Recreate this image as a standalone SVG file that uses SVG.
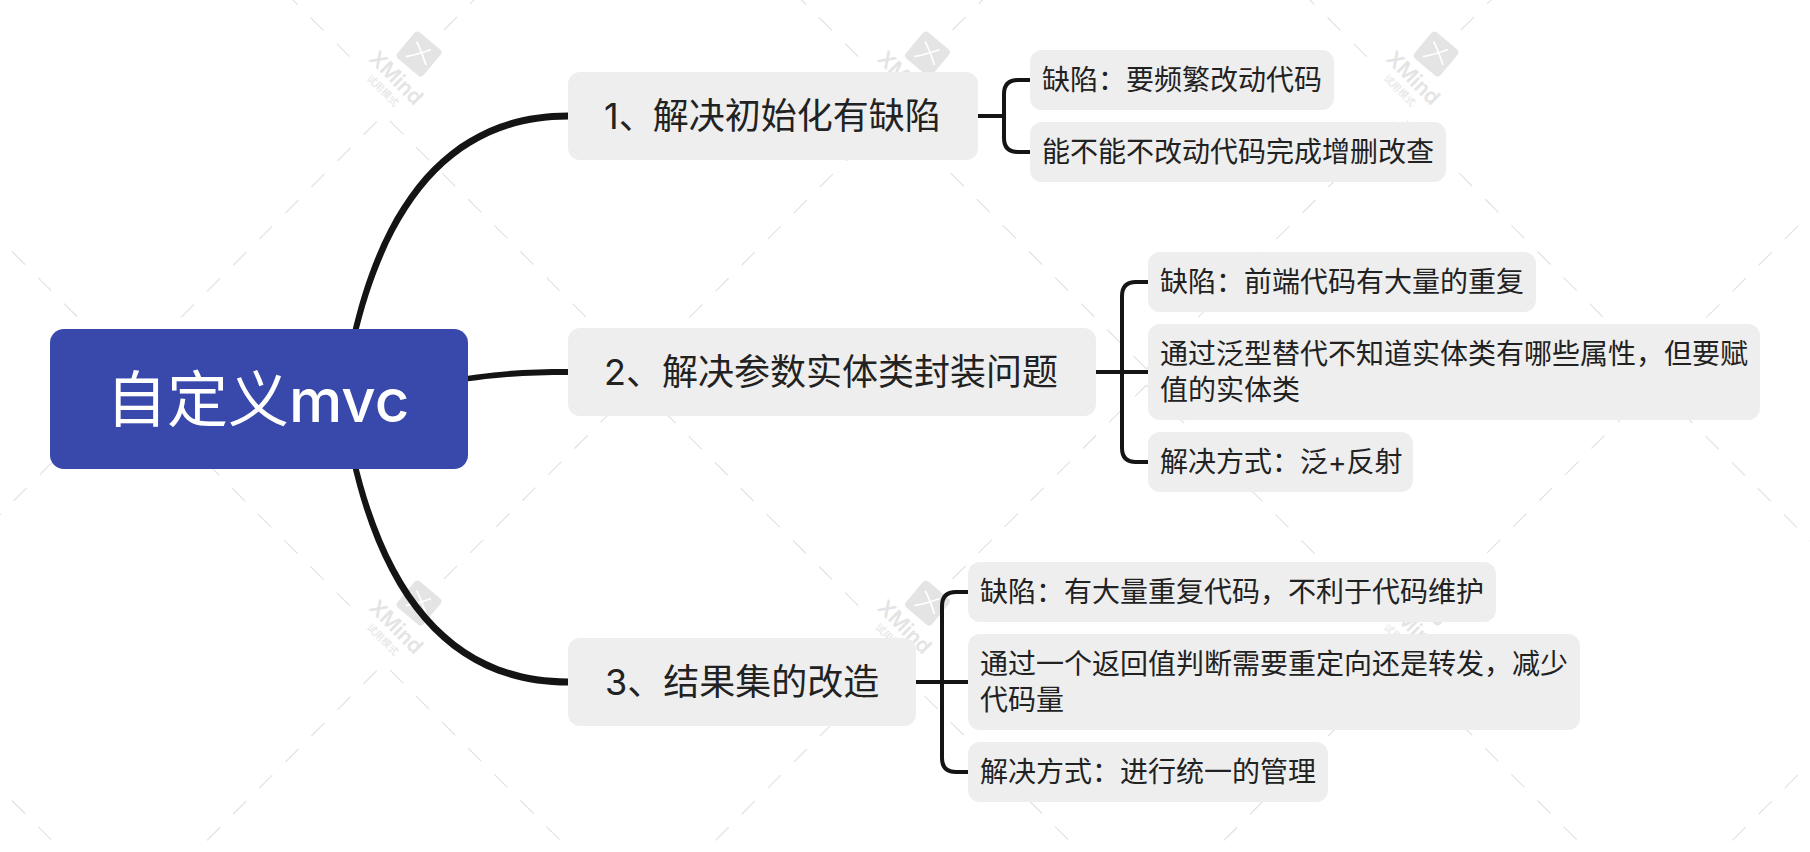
<svg xmlns="http://www.w3.org/2000/svg" width="1810" height="852" viewBox="0 0 1810 852">
<style>
text{font-family:"Inter","Noto Sans CJK SC",sans-serif;fill:#222}
.wm line{stroke:#e2e2e2;stroke-width:1.2;stroke-dasharray:18.5 18.4}
.wm text{fill:#e4e4e4}
.n{fill:#eee}
.m{font-size:36px}
.s{font-size:28px}
.br{fill:none;stroke:#141414;stroke-width:4}
.tp{fill:#141414}
</style>
<defs>
<g id="tile" class="wm">
<line x1="349.7" y1="56.7" x2="129.5" y2="-163.5"/>
<line x1="444" y1="30" x2="638" y2="-164"/>
<line x1="390" y1="121" x2="638" y2="369"/>
<line x1="376.7" y1="121.7" x2="129.5" y2="368.9"/>
<rect x="402" y="37" width="34" height="34" rx="4" fill="#e4e4e4" transform="rotate(40 419 54)"/>
<path d="M416.7 41.7Q421 50 426 65M405.7 56.7Q420 54 431 49.500" fill="none" stroke="#fff" stroke-width="1.8"/>
<text x="396" y="85" text-anchor="middle" font-size="21" font-weight="600" transform="rotate(45 396 78)">XMind</text>
<text x="383" y="94" text-anchor="middle" font-size="10" transform="rotate(45 383 90)">试用模式</text>
</g>
</defs>
<rect width="1810" height="852" fill="#fff"/>
<g id="watermark">
<use href="#tile" x="-508.5" y="0"/><use href="#tile" x="0" y="0"/><use href="#tile" x="508.5" y="0"/><use href="#tile" x="1017" y="0"/><use href="#tile" x="1525.5" y="0"/>
<use href="#tile" x="-508.5" y="549"/><use href="#tile" x="0" y="549"/><use href="#tile" x="508.5" y="549"/><use href="#tile" x="1017" y="549"/><use href="#tile" x="1525.5" y="549"/>
</g>
<g id="connectors">
<path class="tp" d="M350.500 339C384 188 458 112.500 568 112.500V119.500C462 119.500 390.500 192 356 341Z"/>
<path class="tp" d="M350.500 459C384 610 458 685.500 568 685.500V678.500C462 678.500 390.500 606 356 457Z"/>
<path class="tp" d="M440 380.500C490 371 525 369 568 369V375C525 375 490 377 440 386Z"/>
<path class="br" d="M978 116H1004M1030 80H1018Q1004 80 1004 94V138Q1004 152 1018 152H1030"/>
<path class="br" d="M1095 372H1148M1148 282H1136Q1122 282 1122 296V448Q1122 462 1136 462H1148"/>
<path class="br" d="M916 682H968M968 592H956Q942 592 942 606V758Q942 772 956 772H968"/>
</g>
<g id="root"><rect x="50" y="329" width="418" height="140" rx="14" fill="#3949ab"/><text x="106" y="422" font-size="61" style="fill:#fff">自定义<tspan font-weight="500" font-size="60">mvc</tspan></text></g>
<g id="n1"><rect class="n" x="568" y="72" width="410" height="88" rx="12"/><text class="m" x="604" y="129">1、<tspan dx="-2">解决初始化有缺陷</tspan></text></g>
<g id="n2"><rect class="n" x="568" y="328" width="528" height="88" rx="12"/><text class="m" x="604" y="385">2、解决参数实体类封装问题</text></g>
<g id="n3"><rect class="n" x="568" y="638" width="348" height="88" rx="12"/><text class="m" x="605" y="695">3、结果集的改造</text></g>
<g id="s1a"><rect class="n" x="1030" y="50" width="304" height="60" rx="12"/><text class="s" x="1042" y="90">缺陷：要频繁改动代码</text></g>
<g id="s1b"><rect class="n" x="1030" y="122" width="416" height="60" rx="12"/><text class="s" x="1042" y="162">能不能不改动代码完成增删改查</text></g>
<g id="s2a"><rect class="n" x="1148" y="252" width="388" height="60" rx="12"/><text class="s" x="1160" y="292">缺陷：前端代码有大量的重复</text></g>
<g id="s2b"><rect class="n" x="1148" y="324" width="612" height="96" rx="12"/><text class="s" x="1160" y="364">通过泛型替代不知道实体类有哪些属性，但要赋</text><text class="s" x="1160" y="400">值的实体类</text></g>
<g id="s2c"><rect class="n" x="1148" y="432" width="265" height="60" rx="12"/><text class="s" x="1160" y="472">解决方式：泛+反射</text></g>
<g id="s3a"><rect class="n" x="968" y="562" width="528" height="60" rx="12"/><text class="s" x="980" y="602">缺陷：有大量重复代码，不利于代码维护</text></g>
<g id="s3b"><rect class="n" x="968" y="634" width="612" height="96" rx="12"/><text class="s" x="980" y="674">通过一个返回值判断需要重定向还是转发，减少</text><text class="s" x="980" y="710">代码量</text></g>
<g id="s3c"><rect class="n" x="968" y="742" width="360" height="60" rx="12"/><text class="s" x="980" y="782">解决方式：进行统一的管理</text></g>
</svg>
